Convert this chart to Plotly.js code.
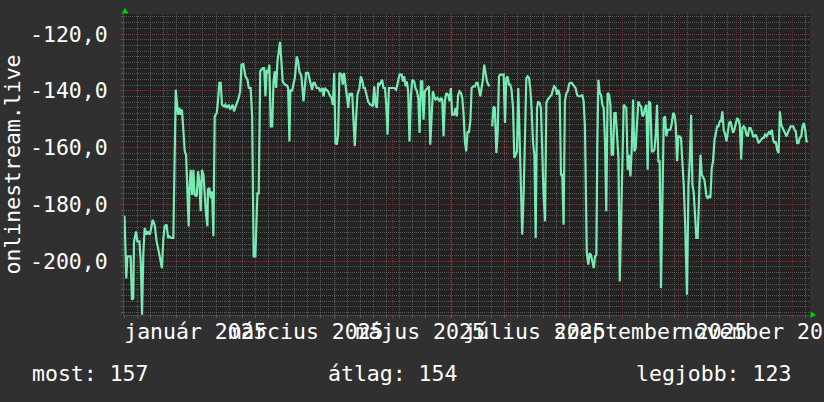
<!DOCTYPE html>
<html>
<head>
<meta charset="utf-8">
<script src="https://cdn.plot.ly/plotly-3.0.1.min.js"></script>
<style>
html,body{margin:0;padding:0;background:#303030;}
#chart{width:824px;height:402px;}
</style>
</head>
<body>
<div id="chart"></div>
<script>
// ---- data ----
const baseDate = '2025-01-01';   // day offsets are relative to this date
const dayOffsets = [
-22.9,-22.5,-21.9,-21.4,-19.6,-18.9,-18.2,-17.8,-16.7,-16.0,
-14.9,-14.2,-13.5,-12.8,-12.1,-11.0,-10.3,-9.3,-8.5,-7.8,
-6.8,-5.7,-4.6,-3.6,-2.9,-2.1,-1.4,-0.4,0.4,1.1,
2.1,3.2,3.6,4.5,5.7,6.4,7.1,7.8,8.6,9.3,
10.0,10.7,11.4,11.8,12.5,13.2,13.9,14.6,15.7,16.4,
17.1,17.8,18.5,19.3,20.0,20.7,21.4,21.7,22.4,23.2,
23.9,24.6,25.3,26.4,27.1,27.8,28.5,29.2,30.3,31.0,
31.7,32.8,33.5,34.2,34.9,35.6,36.3,37.1,38.1,
38.9,39.6,40.6,41.7,42.8,43.5,44.5,45.3,46.1,47.0,
48.1,48.8,49.6,51.0,51.7,52.4,53.1,53.8,54.5,55.2,
56.0,56.7,57.4,58.1,58.8,59.5,60.2,60.9,61.6,62.7,
63.8,64.5,65.2,65.7,66.6,67.3,68.1,69.1,69.8,70.5,
71.6,72.7,73.4,74.1,75.2,76.3,77.3,78.0,78.7,79.8,
80.9,81.6,82.7,83.4,84.1,84.8,85.9,86.6,87.7,88.4,
89.1,89.8,90.5,91.2,91.9,93.0,93.7,94.4,95.1,95.8,
96.6,97.3,98.0,98.7,99.4,100.1,
100.8,101.5,102.6,103.3,104.0,104.8,105.5,106.5,107.2,108.3,
109.0,109.7,110.5,111.2,111.9,112.6,113.3,114.0,114.7,115.4,
116.2,116.9,117.6,118.3,119.0,120.1,121.1,122.2,123.3,124.0,
125.1,125.8,126.5,127.2,127.9,128.6,129.3,130.1,130.8,131.8,
132.5,133.3,134.0,134.7,135.4,136.1,136.8,137.5,138.2,138.9,
139.7,140.4,141.1,141.8,142.5,143.2,144.3,145.4,146.1,146.8,
147.5,148.2,148.9,150.0,150.7,151.4,152.1,153.2,153.9,154.6,
155.3,156.0,156.8,157.5,158.2,158.9,159.6,160.3,161.0,161.8,
162.5,
163.5,164.3,165.0,165.7,166.4,167.1,167.8,168.5,169.2,170.0,
170.7,171.4,172.1,172.8,173.5,174.2,174.9,175.7,176.4,177.1,
177.8,178.9,179.6,180.3,181.0,181.7,182.4,183.1,183.8,184.6,
185.3,186.0,186.7,187.4,188.1,188.8,189.5,190.3,191.0,191.7,
192.4,193.1,193.8,194.5,195.3,196.0,196.7,197.4,198.1,198.8,
199.5,200.2,200.9,201.7,202.4,203.1,203.8,204.5,205.2,205.9,
206.6,207.4,208.1,208.8,209.5,210.2,210.9,211.6,212.3,213.1,
213.8,214.5,215.2,215.9,216.6,217.3,218.0,218.8,219.5,220.2,
220.9,221.6,222.3,223.0,224.0,
224.8,225.5,226.2,227.0,227.7,228.4,229.1,229.6,230.2,230.9,
231.6,232.3,233.0,233.7,234.4,235.1,235.9,236.6,237.3,238.0,
238.7,239.4,240.1,240.9,241.6,242.3,243.0,243.7,244.4,245.1,
245.8,246.5,247.3,248.0,248.7,249.4,250.1,250.8,251.5,252.2,
253.0,253.7,254.4,255.1,255.8,256.5,257.2,257.9,258.7,259.4,
260.1,260.8,261.5,262.2,262.9,263.6,264.4,265.1,265.8,266.5,
267.2,267.9,268.6,269.3,270.1,270.8,271.5,272.2,272.9,273.6,
274.3,275.0,275.8,276.5,277.5,278.3,279.0,279.7,280.4,281.1,
281.8,282.5,283.2,284.0,284.7,285.4,286.1,
286.8,287.9,288.6,289.3,290.0,290.7,291.4,292.2,292.9,293.6,
294.3,295.0,295.7,296.4,297.1,297.9,298.6,299.3,300.0,300.7,
301.4,302.1,302.8,303.6,304.3,305.0,305.7,306.4,307.1,307.8,
308.5,309.2,310.0,310.7,311.4,312.1,312.8,313.5,314.2,314.9,
315.7,316.4,317.1,317.8,318.5,319.2,320.0,320.7,321.4,322.1,
322.8,323.5,324.2,324.9,325.6,326.4,327.1,327.8,328.5,329.2,
329.9,330.6,331.3,332.1,332.8,333.5,334.2,334.9,335.6,336.3,
337.0,337.7,338.5,339.2,339.9,340.6,341.3,342.0
];
const values = [
-184,-192,-206,-198.3,-198.3,-213.5,-213,-193,-189.5,-193,
-193,-200,-218.8,-197.1,-188.3,-190.6,-189.5,-190.6,-188.3,-185.4,
-187.1,-193,-196.5,-200,-202.4,-191.8,-187.7,-187.1,-191.8,-191.2,
-191.8,-191.8,-170.1,-139.6,-148.4,-146,-148.4,-146.6,-154.3,-161.3,
-162.5,-176.6,-187.7,-174.8,-167.8,-176.6,-167.8,-176.6,-177.1,-168.3,
-171.9,-182.4,-167.8,-169.5,-177.7,-183.6,-187.7,-174.8,-174.2,-177.7,
-175.4,-191.2,-149,-147.8,-143.1,-137.2,-137.2,-144.9,-145.5,-144.9,
-146,-144.9,-146.6,-145.5,-144.9,-147.2,-146,-144.9,-142.5,
-140.2,-130.8,-130.6,-134.9,-136.1,-139,-139,-149,-198.3,-198.3,
-176.1,-176.1,-133.1,-132,-132,-141.9,-132.6,-133.7,-130.8,-152.5,
-152.5,-136.7,-133.1,-139,-129.6,-126.7,-122.8,-129.6,-136.7,-137.8,
-138.1,-139,-157.8,-139.6,-140.2,-137.8,-135.5,-127.9,-129.6,-133.1,
-134.9,-143.7,-139.6,-133.7,-133.7,-136.7,-139.6,-137.2,-137.2,-139,
-139,-140.2,-139,-141.9,-139,-139.6,-140.2,-141.4,-142.5,-144.9,
-133.7,-158.4,-158.9,-155.4,-133.7,-134.3,-137.8,-133.7,-137.8,-140.2,
-146,-140.8,-141.4,-140.8,-153.7,-159.5,
-149.6,-141.4,-139,-134.9,-136.1,-139,-139,-141.9,-143.7,-144.9,
-144.9,-145.5,-138.4,-144.9,-146,-137.2,-137.8,-137.2,-136.1,-139,
-139,-144.9,-155.4,-139,-139,-139,-139,-139.6,-135.5,-134.3,
-134.3,-136.7,-134.9,-138.4,-136.7,-140.2,-157.8,-141.4,-136.1,-136.7,
-139,-140.2,-142.5,-154.8,-136.7,-136.7,-150.2,-140.2,-139.6,-139,
-138.4,-159,-146,-140.2,-141.9,-143.1,-142.5,-143.7,-142.5,-143.1,
-156,-143.7,-140.8,-141.4,-143.7,-139,-148.4,-148.4,-146,-149,
-141.4,-140.2,-140.8,-142.5,-148.4,-157.8,-161.3,-154.3,-154.8,-150.7,
-139,
-138.4,-138.4,-137.2,-137.2,-140.2,-141.9,-139,-136.1,-130.8,-134.9,
-136.7,-137.8,-138.4,null,-152.5,-145.5,-146,-161.9,-154.8,-134.9,
-134.3,-134.3,-134.3,-151.3,-135.5,-134.9,-137.8,-137.8,-139.6,-146,
-163.6,-162.5,-161.3,-139,-154.3,-168.3,-190.6,-175.4,-153.1,-135.5,
-134.9,-135.5,-139,-146,-158.4,-162.5,-191.8,-146,-143.7,-144.3,
-146,-162.5,-176.6,-185.9,-144.3,-143.1,-142.5,-141.9,-141.4,-139.6,
-138.4,-139,-141.4,-139.6,-141.4,-169.5,-169.5,-187.1,-143.7,-140.8,
-140.2,-137.6,-137.2,-137.2,-137.8,-138.4,-139,-141.4,-141.9,-141.9,
-141.9,-141.4,-143.7,-152.5,-197.1,
-201.2,-197.1,-197.7,-200.6,-202.4,-198.3,-197.7,-159,-136.1,-140.8,
-141.4,-144.9,-146,-157.8,-182.4,-140.8,-141.4,-144.9,-162.5,-162.5,
-147.8,-147.8,-157.8,-163.6,-207.1,-189.5,-163.6,-144.9,-145.5,-146,
-167.8,-162.5,-170.1,-160.1,-143.1,-161.3,-160.1,-152.5,-143.7,-144.9,
-145.5,-149,-148.4,-146,-144.9,-167.8,-143.7,-144.3,-161.3,-161.3,
-160.7,-155.4,-144.9,-164.8,-164.8,-209.4,-169.5,-149.6,-149,-156,
-153.7,-153.7,-153.7,-151.9,-147.8,-148.4,-151.9,-164.8,-156,-156,
-156.6,-164.8,-173.6,-186.5,-211.8,-173,-164.2,-148.4,-173,-175.9,
-185.4,-191.8,-191.8,-179.5,-162.5,-169.5,-170.7,
-171.3,-177.1,-177.7,-177.1,-177.7,-167.2,-164.8,-157.2,-154.3,-152.5,
-152.5,-150.7,-150.7,-147.2,-153.7,-155.4,-157.8,-153.7,-151.3,-150.7,
-153.1,-154.8,-153.7,-151.3,-149.6,-150.2,-151.9,-164.2,-153.1,-152.5,
-153.1,-155.4,-156,-153.1,-153.1,-154.3,-156,-156,-155.4,-156.6,
-158.4,-157.8,-157.2,-156.6,-156.6,-155.4,-156,-154.8,-154.3,-155.4,
-153.7,-157.2,-158.4,-157.8,-160.7,-161.9,-147.2,-151.9,-153.1,-153.7,
-154.8,-156,-154.8,-153.1,-152.5,-152.5,-152.5,-153.7,-154.3,-158.4,
-158.4,-156.6,-156,-152.5,-151.3,-153.7,-157.8,-157.8
];
const tickDates = ['2025-01-16','2025-03-16','2025-05-16','2025-07-16','2025-09-16','2025-11-16'];
const tickLabels = ['január 2025','március 2025','május 2025','július 2025','szeptember 2025','november 2025'];
const yTickVals = [-200,-180,-160,-140,-120];
const yTickLabels = ['-200,0','-180,0','-160,0','-140,0','-120,0'];
const yTitle = 'onlinestream.live';
const summaryLabels = ['most: 157','átlag: 154','legjobb: 123'];

// ---- build ----
const baseMs = Date.parse(baseDate + 'T00:00:00Z');
const xDates = dayOffsets.map(d => new Date(baseMs + d*86400000).toISOString().slice(0,19).replace('T',' '));

const W=824, H=402, ML=124, MR=14, MT=14, MB=87;
const PW=W-ML-MR, PH=H-MT-MB;
const px = x => (x-ML)/PW;
const py = y => (H-MB-y)/PH;

const FONT = {family:'"DejaVu Sans Mono", monospace', size:21.5, color:'#ffffff'};
const xRange = ['2024-12-08 20:40','2025-12-10 04:20'];
const MAJ = 'rgba(140,42,42,0.75)';
const MIN = 'rgba(110,110,110,0.7)';

const traces = [
  {x:xDates, y:values, type:'scatter', mode:'lines', connectgaps:false,
   line:{color:'#78eab4', width:2.2}, hoverinfo:'skip', showlegend:false},
  {x:[], y:[], type:'scatter', mode:'lines', xaxis:'x2', yaxis:'y', hoverinfo:'skip', showlegend:false}
];

const layout = {
  width:W, height:H,
  margin:{l:ML, r:MR, t:MT, b:MB, pad:0},
  paper_bgcolor:'#303030', plot_bgcolor:'#222222',
  font:FONT, showlegend:false,
  xaxis:{type:'date', range:xRange, tickmode:'linear', tick0:'2025-01-01', dtick:'M1',
    showticklabels:false, ticks:'outside', ticklen:3, tickcolor:MAJ,
    showgrid:true, gridcolor:MAJ, griddash:'1px,1px', gridwidth:1,
    zeroline:false, showline:true, linecolor:'#4a4a4a', linewidth:1,
    minor:{tickmode:'linear', tick0:'2025-01-06', dtick:604800000, showgrid:true,
      gridcolor:MIN, griddash:'1px,1px', gridwidth:1, ticks:'outside', ticklen:2, tickcolor:MIN},
    fixedrange:true},
  xaxis2:{type:'date', range:xRange, overlaying:'x', anchor:'y', side:'bottom',
    tickmode:'array', tickvals:tickDates, ticktext:tickLabels, tickangle:0,
    ticklabeloverflow:'allow',
    showgrid:false, zeroline:false, showline:false, ticks:'', ticklabelstandoff:1,
    tickfont:FONT, fixedrange:true},
  yaxis:{range:[-218.9,-112.96], tickmode:'array', tickvals:yTickVals, ticktext:yTickLabels,
    showgrid:true, gridcolor:MAJ, griddash:'1px,1px', gridwidth:1,
    zeroline:false, showline:true, linecolor:'#4a4a4a', linewidth:1,
    ticks:'outside', ticklen:3, tickcolor:MAJ, ticklabelstandoff:8, tickfont:FONT,
    minor:{tickmode:'linear', tick0:-200, dtick:2, showgrid:true, gridcolor:MIN,
      griddash:'1px,1px', gridwidth:1, ticks:'outside', ticklen:2, tickcolor:MIN},
    title:{text:yTitle, font:FONT, standoff:6},
    fixedrange:true},
  annotations:[
    {text:summaryLabels[0], xref:'paper', yref:'paper', x:px(29.5), y:py(373.5), xanchor:'left', yanchor:'middle', showarrow:false, font:FONT},
    {text:summaryLabels[1], xref:'paper', yref:'paper', x:px(325.5), y:py(373.5), xanchor:'left', yanchor:'middle', showarrow:false, font:FONT},
    {text:summaryLabels[2], xref:'paper', yref:'paper', x:px(634), y:py(373.5), xanchor:'left', yanchor:'middle', showarrow:false, font:FONT}
  ],
  shapes:[
    {type:'path', xref:'paper', yref:'paper', layer:'above',
     path:`M ${px(121.5)},${py(13.5)} L ${px(128.5)},${py(13.5)} L ${px(125)},${py(8)} Z`,
     fillcolor:'#00d000', line:{width:0}},
    {type:'path', xref:'paper', yref:'paper', layer:'above',
     path:`M ${px(810.5)},${py(311.5)} L ${px(810.5)},${py(318)} L ${px(816)},${py(314.7)} Z`,
     fillcolor:'#00d000', line:{width:0}}
  ]
};

Plotly.newPlot('chart', traces, layout, {staticPlot:true, displayModeBar:false});
</script>
</body>
</html>
